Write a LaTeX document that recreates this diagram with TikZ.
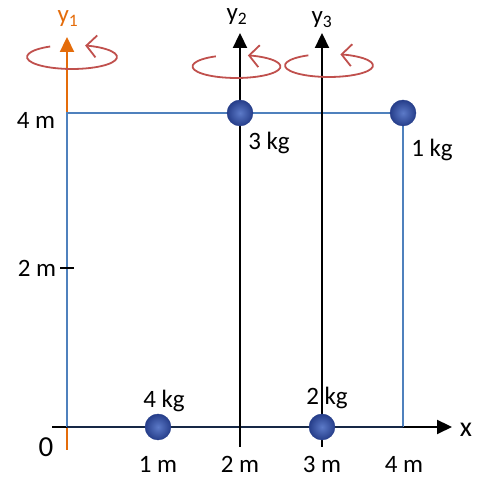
\documentclass[tikz,border=0pt]{standalone}
\usepackage{fontspec}
\setmainfont{Carlito}
\usetikzlibrary{arrows.meta}
\definecolor{rblue}{HTML}{4F81BD}
\definecolor{rorange}{HTML}{E46C0A}
\definecolor{rred}{HTML}{C0504D}
\definecolor{rnavy}{RGB}{22,40,70}
\definecolor{ballin}{RGB}{92,122,200}
\definecolor{ballout}{RGB}{38,62,138}
\tikzset{
  lbl/.style={font=\fontsize{25}{28}\selectfont, inner sep=0pt},
  axisline/.style={line width=2.2pt, -{Triangle[length=15pt,width=14pt]}},
  frame/.style={rblue, line width=2pt},
  mass/.style={circle, minimum size=26pt, inner sep=0pt, inner color=ballin, outer color=ballout, draw=ballout, line width=0.4pt},
  spin/.style={rred, line width=1.8pt, -{Straight Barb[length=10pt,width=22pt,line width=1.8pt]}},
}
\begin{document}
\begin{tikzpicture}[x=1pt,y=1pt]
\useasboundingbox (0,0) rectangle (483,478);
% coordinates
\coordinate (O) at (67,51);
\coordinate (xs) at (52,51);
\coordinate (xe) at (452,51);
\coordinate (y1s) at (67,28);
\coordinate (y1e) at (67,441);
\coordinate (y2s) at (240,31);
\coordinate (y2e) at (240,445);
\coordinate (y3s) at (322,31);
\coordinate (y3e) at (322,445);
\coordinate (TL) at (67,365);
\coordinate (TR) at (403,365);
\coordinate (BR) at (403,51);
\coordinate (t1) at (60,210);
\coordinate (t2) at (74,210);
% axes
\draw[axisline, rorange] (y1s) -- (y1e);
\draw[axisline, black] (xs) -- (xe);
\draw[frame] (O) -- (TL) -- (TR) -- (BR);
\draw[rnavy, line width=2pt] (O) -- (BR);
\draw[axisline, black] (y2s) -- (y2e);
\draw[axisline, black] (y3s) -- (y3e);
\draw[black, line width=1.3pt] (t1) -- (t2);
% rotation arrows
\draw[spin] (72,421) ++(119:45pt and 12pt) arc[start angle=119, end angle=433, x radius=45, y radius=12];
\draw[spin] (236.5,411.5) ++(118:44pt and 11.5pt) arc[start angle=118, end angle=435, x radius=44, y radius=11.5];
\draw[spin] (329,412.5) ++(118:44pt and 11.5pt) arc[start angle=118, end angle=435, x radius=44, y radius=11.5];
% masses
\node[mass] (m3) at (240,365) {};
\node[mass] (m1) at (403,365) {};
\node[mass] (m4) at (158,51) {};
\node[mass] (m2) at (322,51) {};
% labels
\node[lbl] (l3) at (269,335) {3 kg};
\node[lbl] (l1) at (432,328) {1 kg};
\node[lbl] (l4) at (164,77) {4 kg};
\node[lbl] (l2) at (327,80) {2 kg};
\node[lbl] (h4) at (36,358) {4 m};
\node[lbl] (h2) at (37,210) {2 m};
\node[lbl, font=\fontsize{29}{32}\selectfont] (z) at (46,31) {0};
\node[lbl] (a1) at (158,14) {1 m};
\node[lbl] (a2) at (240,14) {2 m};
\node[lbl] (a3) at (322,14) {3 m};
\node[lbl] (a4) at (404,14) {4 m};
\node[lbl, font=\fontsize{28}{30}\selectfont] (xl) at (466,48) {x};
\node[lbl, text=rorange] (y1l) at (68,459) {y\textsubscript{1}};
\node[lbl] (y2l) at (237,461) {y\textsubscript{2}};
\node[lbl] (y3l) at (322,458) {y\textsubscript{3}};
\end{tikzpicture}
\end{document}
